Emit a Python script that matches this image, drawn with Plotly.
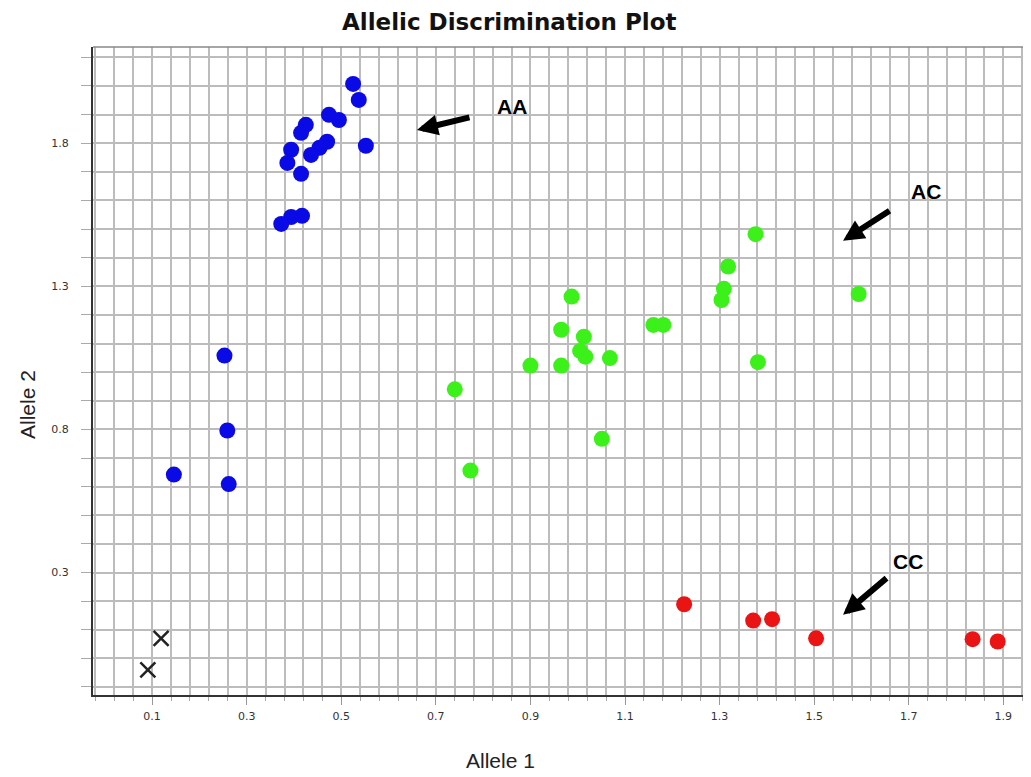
import plotly.graph_objects as go

# ---- data ----
aa_x = [0.525, 0.537, 0.474, 0.495, 0.425, 0.415, 0.552, 0.470, 0.454, 0.436, 0.394,
        0.386, 0.415, 0.417, 0.394, 0.373, 0.253, 0.259, 0.146, 0.262]
aa_y = [2.007, 1.951, 1.899, 1.881, 1.864, 1.836, 1.791, 1.805, 1.784, 1.759, 1.777,
        1.731, 1.693, 1.546, 1.542, 1.518, 1.058, 0.796, 0.642, 0.609]

ac_x = [0.987, 0.965, 1.013, 1.005, 1.016, 1.068, 0.900, 0.965, 0.740, 1.051, 0.773,
        1.160, 1.181, 1.376, 1.318, 1.309, 1.304, 1.594, 1.381]
ac_y = [1.264, 1.148, 1.124, 1.074, 1.054, 1.049, 1.023, 1.023, 0.940, 0.767, 0.656,
        1.165, 1.165, 1.482, 1.369, 1.291, 1.252, 1.273, 1.035]

cc_x = [1.225, 1.371, 1.411, 1.504, 1.835, 1.888]
cc_y = [0.189, 0.132, 0.137, 0.070, 0.067, 0.059]

und_x = [0.119, 0.091]
und_y = [0.070, -0.040]

x_tick_vals = [0.1, 0.3, 0.5, 0.7, 0.9, 1.1, 1.3, 1.5, 1.7, 1.9]
x_tick_text = ["0.1", "0.3", "0.5", "0.7", "0.9", "1.1", "1.3", "1.5", "1.7", "1.9"]
y_tick_vals = [0.3, 0.8, 1.3, 1.8]
y_tick_text = ["0.3", "0.8", "1.3", "1.8"]

# cluster labels: (text, label x, label y, arrow head x, arrow head y, tail dx, tail dy)
labels = ["AA", "AC", "CC"]
label_x = [0.860, 1.736, 1.698]
label_y = [1.927, 1.630, 0.337]
head_x = [0.660, 1.561, 1.561]
head_y = [1.846, 1.459, 0.152]
tail_dx = [54, 48, 45]
tail_dy = [-13, -31, -38]

fig = go.Figure()
marker_size = 16
fig.add_trace(go.Scatter(x=aa_x, y=aa_y, mode="markers", name="AA",
                         marker=dict(color="#0a0ae6", size=marker_size, line=dict(width=0))))
fig.add_trace(go.Scatter(x=ac_x, y=ac_y, mode="markers", name="AC",
                         marker=dict(color="#3cf01a", size=marker_size, line=dict(width=0))))
fig.add_trace(go.Scatter(x=cc_x, y=cc_y, mode="markers", name="CC",
                         marker=dict(color="#ea1414", size=marker_size, line=dict(width=0))))
fig.add_trace(go.Scatter(x=und_x, y=und_y, mode="markers", name="Undetermined",
                         marker=dict(symbol="x-thin", color="#222222", size=15,
                                     line=dict(width=2.5, color="#222222"))))

for t, lx, ly, hx, hy, dx, dy in zip(labels, label_x, label_y, head_x, head_y, tail_dx, tail_dy):
    fig.add_annotation(x=hx, y=hy, ax=dx, ay=dy, text="", showarrow=True,
                       arrowhead=2, arrowsize=0.7, arrowwidth=6, arrowcolor="#000000")
    fig.add_annotation(x=lx, y=ly, text="<b>%s</b>" % t, showarrow=False,
                       font=dict(family="Liberation Sans, Arial", size=21, color="#000000"))

grid_color = "#bcbcbc"
tick_font = dict(family="DejaVu Sans", size=11, color="#333333")

fig.update_xaxes(range=[-0.025, 1.95], tickmode="array", tickvals=x_tick_vals,
                 ticktext=x_tick_text, ticks="outside", ticklen=8, tickcolor="#999999",
                 showgrid=True, gridcolor=grid_color, gridwidth=1.6,
                 showline=True, linecolor="#333333", linewidth=2, zeroline=False,
                 minor=dict(tick0=0.1, dtick=0.04, showgrid=True, gridcolor=grid_color,
                            gridwidth=1.6, ticks="outside", ticklen=4, tickcolor="#aaaaaa"),
                 tickfont=tick_font, ticklabelstandoff=2)
fig.update_yaxes(range=[-0.128, 2.136], tickmode="array", tickvals=y_tick_vals,
                 ticktext=y_tick_text, ticks="outside", ticklen=10, tickcolor="#aaaaaa",
                 showgrid=True, gridcolor=grid_color, gridwidth=1.6,
                 showline=True, linecolor="#333333", linewidth=2, zeroline=False,
                 minor=dict(tick0=0.3, dtick=0.1, showgrid=True, gridcolor=grid_color,
                            gridwidth=1.6, ticks="outside", ticklen=10, tickcolor="#aaaaaa"),
                 tickfont=tick_font, ticklabelstandoff=10)

# axis titles
fig.add_annotation(xref="paper", yref="paper", x=0.436, y=0, yshift=-65,
                   text="Allele 1", showarrow=False, yanchor="middle",
                   font=dict(family="Liberation Sans, Arial", size=21, color="#222222"))
fig.add_annotation(xref="paper", yref="paper", x=0, xshift=-66, y=0.4475,
                   text="Allele 2", showarrow=False, textangle=-90, xanchor="center",
                   font=dict(family="Liberation Sans, Arial", size=21, color="#222222"))

# frame on top
fig.add_shape(type="line", xref="paper", yref="paper", x0=0, x1=1, y0=1, y1=1,
              line=dict(color="#888888", width=1.5))

fig.update_layout(
    width=1023, height=769,
    margin=dict(l=85, r=4, t=39, b=82, autoexpand=False),
    paper_bgcolor="white", plot_bgcolor="white",
    showlegend=False,
    title=dict(text="<b>Allelic Discrimination Plot</b>", x=0.49, xanchor="center",
               yref="container", y=0.982, yanchor="middle",
               font=dict(family="DejaVu Sans", size=23, color="#111111")),
)

fig.write_html("out.html")
